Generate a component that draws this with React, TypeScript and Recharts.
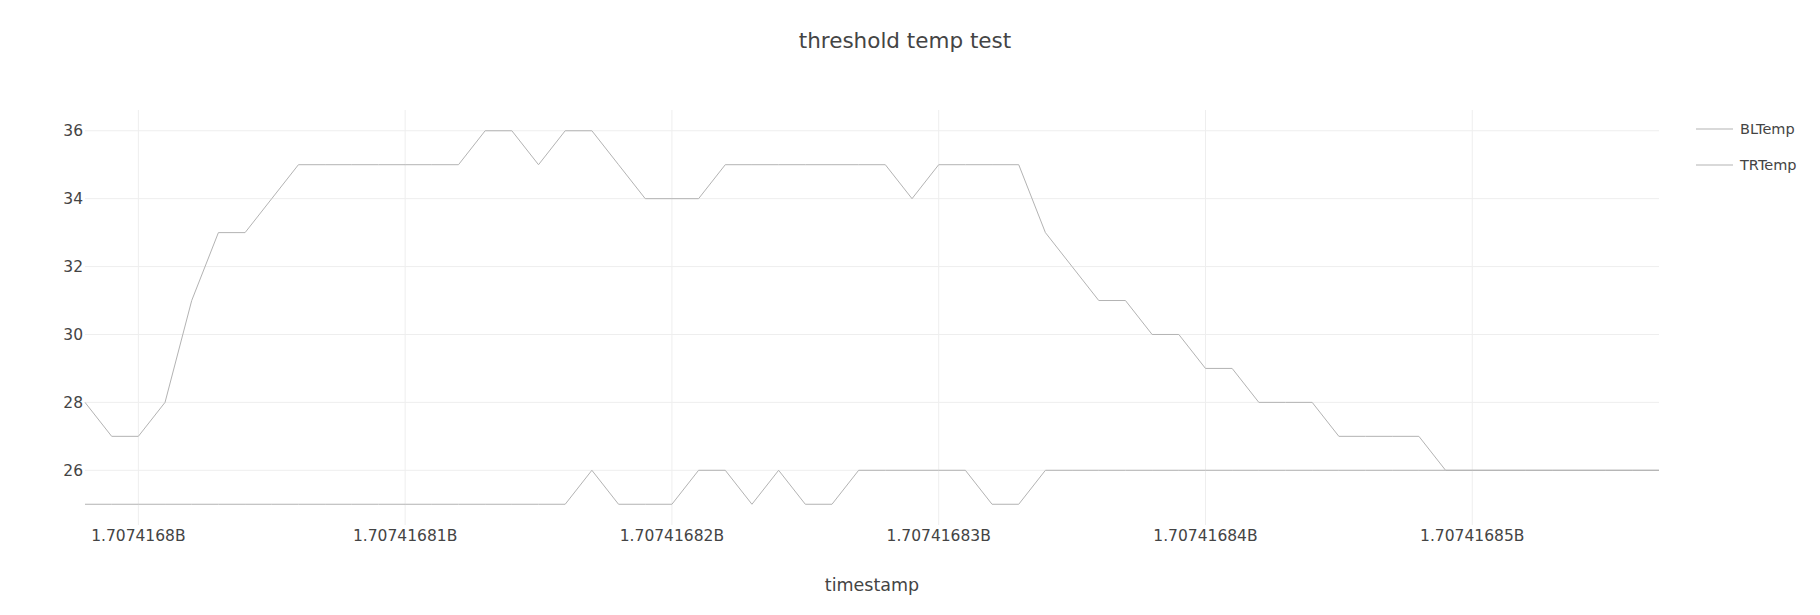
import { LineChart, Line, ReferenceLine, XAxis, YAxis, Legend } from 'recharts';

// one reading per second
const timestamps = [
  1707416798, 1707416799, 1707416800, 1707416801, 1707416802, 1707416803, 1707416804, 1707416805,
  1707416806, 1707416807, 1707416808, 1707416809, 1707416810, 1707416811, 1707416812, 1707416813,
  1707416814, 1707416815, 1707416816, 1707416817, 1707416818, 1707416819, 1707416820, 1707416821,
  1707416822, 1707416823, 1707416824, 1707416825, 1707416826, 1707416827, 1707416828, 1707416829,
  1707416830, 1707416831, 1707416832, 1707416833, 1707416834, 1707416835, 1707416836, 1707416837,
  1707416838, 1707416839, 1707416840, 1707416841, 1707416842, 1707416843, 1707416844, 1707416845,
  1707416846, 1707416847, 1707416848, 1707416849, 1707416850, 1707416851, 1707416852, 1707416853,
  1707416854, 1707416855, 1707416856, 1707416857,
];

const blTemp = [
  25, 25, 25, 25, 25, 25, 25, 25, 25, 25, 25, 25, 25, 25, 25, 25, 25, 25, 25, 26,
  25, 25, 25, 26, 26, 25, 26, 25, 25, 26, 26, 26, 26, 26, 25, 25, 26, 26, 26, 26,
  26, 26, 26, 26, 26, 26, 26, 26, 26, 26, 26, 26, 26, 26, 26, 26, 26, 26, 26, 26,
];

const trTemp = [
  28, 27, 27, 28, 31, 33, 33, 34, 35, 35, 35, 35, 35, 35, 35, 36, 36, 35, 36, 36,
  35, 34, 34, 34, 35, 35, 35, 35, 35, 35, 35, 34, 35, 35, 35, 35, 33, 32, 31, 31,
  30, 30, 29, 29, 28, 28, 28, 27, 27, 27, 27, 26, 26, 26, 26, 26, 26, 26, 26, 26,
];

const xTicks = [1707416800, 1707416810, 1707416820, 1707416830, 1707416840, 1707416850];
const yTicks = [26, 28, 30, 32, 34, 36];

const chartData = timestamps.map((ts, i) => ({ ts, BLTemp: blTemp[i], TRTemp: trTemp[i] }));

// plotly-style autorange: 5% padding each side on y
const allY = [...blTemp, ...trTemp];
const yLo = Math.min(...allY);
const yHi = Math.max(...allY);
const yPad = (yHi - yLo) / 18;

const fmtTs = (v: number) => `${parseFloat((v / 1e9).toFixed(8))}B`;

const LINE_COLOR = '#b3b3b3';
const GRID = '#eeeeee';
const TEXT = '#444';
const FONT = '"DejaVu Sans", Verdana, sans-serif';

const renderLegend = (props: any) => {
  const { payload } = props;
  return (
    <div style={{ fontFamily: FONT, fontSize: 14.5, color: TEXT }}>
      {payload.map((entry: any) => (
        <div key={entry.value} style={{ height: 36, display: 'flex', alignItems: 'center' }}>
          <svg width={37} height={4} style={{ marginRight: 7 }}>
            <line x1={0} y1={2} x2={37} y2={2} stroke={LINE_COLOR} strokeWidth={1} />
          </svg>
          <span>{entry.value}</span>
        </div>
      ))}
    </div>
  );
};

const App = () => {
  return (
    <div style={{ position: 'absolute', left: 0, top: 0, width: 1820, height: 615, background: '#fff', fontFamily: FONT }}>
      <div style={{ position: 'absolute', left: 905, top: 40, transform: 'translate(-50%, -50%)', fontSize: 21.5, color: TEXT, whiteSpace: 'nowrap' }}>
        threshold temp test
      </div>
      <LineChart width={1820} height={615} data={chartData} margin={{ top: 110, right: 161, bottom: 0, left: 0 }}>
        <XAxis
          dataKey="ts"
          type="number"
          domain={[timestamps[0], timestamps[timestamps.length - 1]]}
          ticks={xTicks}
          interval={0}
          tickFormatter={fmtTs}
          tick={{ fill: TEXT, fontSize: 15.5, fontFamily: FONT }}
          axisLine={false}
          tickLine={false}
          tickSize={0}
          tickMargin={5}
          height={90}
        />
        <YAxis
          type="number"
          domain={[yLo - yPad, yHi + yPad]}
          ticks={yTicks}
          interval={0}
          tick={{ fill: TEXT, fontSize: 15.5, fontFamily: FONT }}
          axisLine={false}
          tickLine={false}
          tickSize={0}
          tickMargin={2}
          width={85}
        />
        {/* gridlines only at the ticks, no frame */}
        {xTicks.map((t) => (
          <ReferenceLine key={`gx${t}`} x={t} stroke={GRID} strokeWidth={1} />
        ))}
        {yTicks.map((t) => (
          <ReferenceLine key={`gy${t}`} y={t} stroke={GRID} strokeWidth={1} />
        ))}
        <Legend
          layout="vertical"
          align="center"
          verticalAlign="middle"
          content={renderLegend}
          wrapperStyle={{ left: 1696, top: 111, width: 120 }}
        />
        <Line type="linear" dataKey="BLTemp" stroke={LINE_COLOR} strokeWidth={1} dot={false} isAnimationActive={false} />
        <Line type="linear" dataKey="TRTemp" stroke={LINE_COLOR} strokeWidth={1} dot={false} isAnimationActive={false} />
      </LineChart>
      <div style={{ position: 'absolute', left: 872, top: 585, transform: 'translate(-50%, -50%)', fontSize: 17.5, color: TEXT, whiteSpace: 'nowrap' }}>
        timestamp
      </div>
    </div>
  );
};

export default App;
